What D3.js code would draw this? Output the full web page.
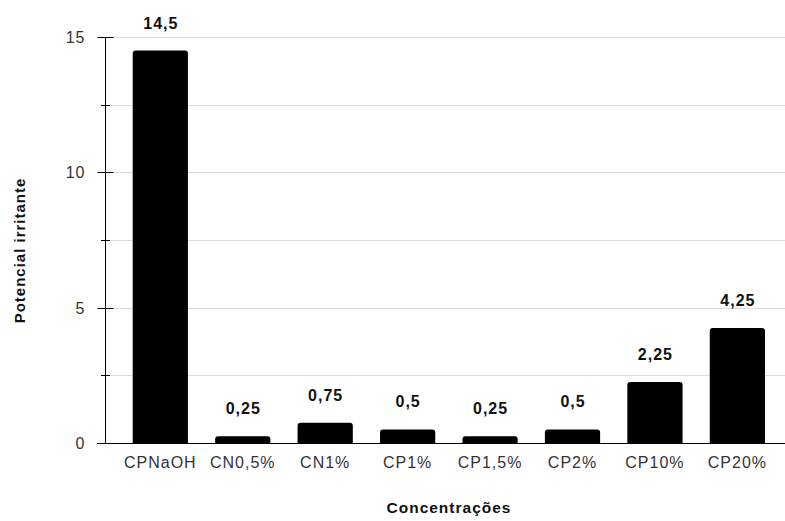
<!DOCTYPE html>
<html><head><meta charset="utf-8">
<script src="https://cdn.jsdelivr.net/npm/d3@7"></script>
<style>body{margin:0;background:#fff}svg{display:block}</style>
</head><body>
<script>
const categories = ["CPNaOH","CN0,5%","CN1%","CP1%","CP1,5%","CP2%","CP10%","CP20%"];
const values = [14.5,0.25,0.75,0.5,0.25,0.5,2.25,4.25];
const valueLabels = ["14,5","0,25","0,75","0,5","0,25","0,5","2,25","4,25"];
const yTicks = [0,5,10,15];
const yMinorTicks = [2.5,7.5,12.5];

const W=785,H=521;
const svg=d3.select("body").append("svg").attr("width",W).attr("height",H);
const axisX=105;
const y=d3.scaleLinear().domain([0,15]).range([443,37]);
const x=d3.scaleBand().domain(categories).range([132.7,765]).paddingInner(0.33).paddingOuter(0);
const font="Liberation Sans, Arial, sans-serif";

// gridlines
svg.append("g").selectAll("line").data(d3.range(2.5,15.01,2.5)).join("line")
 .attr("x1",axisX).attr("x2",W).attr("y1",d=>Math.round(y(d))+0.5).attr("y2",d=>Math.round(y(d))+0.5)
 .attr("stroke","#dcdcdc").attr("stroke-width",1);

// bars
svg.append("g").selectAll("path").data(values).join("path")
 .attr("d",(d,i)=>{const x0=x(categories[i]),w=x.bandwidth(),y0=y(d),y1=y(0),r=Math.min(3,(y1-y0)/2);
   return `M${x0},${y1}V${y0+r}Q${x0},${y0} ${x0+r},${y0}H${x0+w-r}Q${x0+w},${y0} ${x0+w},${y0+r}V${y1}Z`;})
 .attr("fill","#000");

// value labels
svg.append("g").selectAll("text").data(values).join("text")
 .attr("x",(d,i)=>x(categories[i])+x.bandwidth()/2+0.5).attr("y",d=>y(d)-22)
 .attr("text-anchor","middle").attr("font-family",font).attr("font-weight","bold").attr("font-size",16)
 .attr("letter-spacing",1).attr("fill","#111").text((d,i)=>valueLabels[i]);

// y axis
const yAxis=d3.axisLeft(y).tickValues(yTicks).tickSize(8).tickPadding(12).tickFormat(d3.format("d"));
const gy=svg.append("g").attr("transform",`translate(${axisX+0.5},0)`).call(yAxis);
gy.select(".domain").attr("d",`M0,${y(15)}V${y(0)}`).attr("stroke","#000");
gy.selectAll(".tick line").attr("x1",-8).attr("x2",8).attr("stroke","#000");
gy.selectAll(".tick text").attr("font-family",font).attr("font-size",16).attr("letter-spacing",1).attr("fill","#333");
gy.selectAll(".tick").attr("transform",d=>`translate(0,${Math.round(y(d))+0.5})`);
svg.append("g").selectAll("line").data(yMinorTicks).join("line")
 .attr("x1",axisX-4).attr("x2",axisX+5).attr("y1",d=>Math.round(y(d))+0.5).attr("y2",d=>Math.round(y(d))+0.5)
 .attr("stroke","#000");

// x axis
const xAxis=d3.axisBottom(x).tickSize(0).tickPadding(13);
const gx=svg.append("g").attr("transform",`translate(0,${Math.round(y(0))+0.5})`).call(xAxis);
gx.select(".domain").attr("d",`M${axisX-8},0H${W}`).attr("stroke","#000");
gx.selectAll(".tick text").attr("font-family",font).attr("font-size",16).attr("letter-spacing",1).attr("fill","#333");

// titles
svg.append("text").attr("x",449).attr("y",513).attr("text-anchor","middle")
 .attr("font-family",font).attr("font-weight","bold").attr("font-size",15.5).attr("letter-spacing",1)
 .attr("fill","#111").text("Concentrações");
svg.append("text").attr("transform","translate(25,250.5) rotate(-90)").attr("text-anchor","middle")
 .attr("font-family",font).attr("font-weight","bold").attr("font-size",15).attr("letter-spacing",1)
 .attr("fill","#111").text("Potencial irritante");
</script>
</body></html>
